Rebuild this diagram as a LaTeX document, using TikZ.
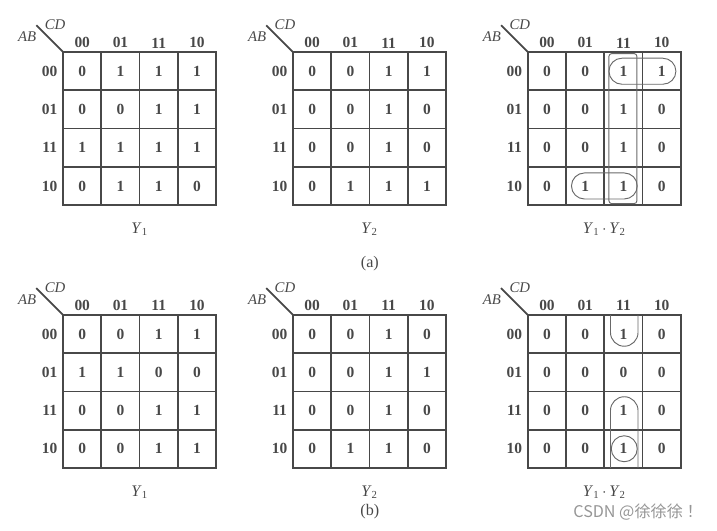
\documentclass[tikz,border=0pt]{standalone}
\usepackage{fontspec}
\setmainfont{Liberation Serif}
\newfontfamily\cjk{Noto Sans CJK SC}
\usepackage{xcolor}
\definecolor{ink}{RGB}{72,72,72}
\definecolor{loopc}{RGB}{105,105,105}
\definecolor{wmark}{RGB}{150,150,150}

\begin{document}
\begin{tikzpicture}
\tikzstyle{cell} =[draw=ink,line width=1.3pt,minimum size=1cm,inner sep=0pt,text=ink,font=\fontsize{11.5}{11.5}\selectfont\bfseries]
\tikzstyle{code} =[inner sep=0pt,text=ink,font=\fontsize{11.5}{11.5}\selectfont\bfseries]
\tikzstyle{var} =[inner sep=0pt,text=ink,font=\fontsize{11}{11}\selectfont\itshape]
\tikzstyle{caption} =[inner sep=0pt,text=ink,font=\fontsize{12}{12}\selectfont]
\tikzstyle{ring} =[draw=loopc,line width=0.7pt]
\useasboundingbox (0,0) rectangle (18.745,13.882);
\foreach \m/\px/\py/\data/\cap in {
  a1/1.65/12.52/{{0,1,1,1},{0,0,1,1},{1,1,1,1},{0,1,1,0}}/{\textit{Y}\textsubscript{1}},
  a2/7.66/12.52/{{0,0,1,1},{0,0,1,0},{0,0,1,0},{0,1,1,1}}/{\textit{Y}\textsubscript{2}},
  a3/13.80/12.52/{{0,0,1,1},{0,0,1,0},{0,0,1,0},{0,1,1,0}}/{\textit{Y}\textsubscript{1}\,$\cdot$\,\textit{Y}\textsubscript{2}},
  b1/1.65/5.65/{{0,0,1,1},{1,1,0,0},{0,0,1,1},{0,0,1,1}}/{\textit{Y}\textsubscript{1}},
  b2/7.66/5.65/{{0,0,1,0},{0,0,1,1},{0,0,1,0},{0,1,1,0}}/{\textit{Y}\textsubscript{2}},
  b3/13.80/5.65/{{0,0,1,0},{0,0,0,0},{0,0,1,0},{0,0,1,0}}/{\textit{Y}\textsubscript{1}\,$\cdot$\,\textit{Y}\textsubscript{2}}}
{
  \begin{scope}[shift={(\px,\py)}]
    \foreach \vals [count=\r from 0] in \data {
      \foreach \v [count=\c from 0] in \vals
        \node[cell] (\m-\r-\c) at (\c+0.5,-\r-0.5) {\v};
    }
    \foreach \g [count=\c from 0] in {00,01,11,10} {
      \node[code] (\m-col\c) at (\c+0.5,0.24) {\g};
      \node[code] (\m-row\c) at (-0.35,-\c-0.5) {\g};
    }
    \coordinate (\m-o) at (0,0);
    \coordinate (\m-d) at (-0.7,0.7);
    \draw[ink,line width=1.3pt] (\m-o) -- (\m-d);
    \node[var] (\m-cd) at (-0.21,0.72) {CD};
    \node[var] (\m-ab) at (-0.94,0.40) {AB};
    \node[caption] (\m-cap) at (2,-4.63) {\cap};
  \end{scope}
}
\begin{scope}[shift={(13.80,12.52)}]
  \draw[ring,rounded corners=0.34cm] (2.12,-0.16) rectangle (3.87,-0.84);
  \draw[ring,rounded corners=0.34cm] (1.14,-3.16) rectangle (2.86,-3.84);
  \draw[ring,rounded corners=2pt] (2.12,-0.04) rectangle (2.85,-3.96);
\end{scope}
\begin{scope}[shift={(13.80,5.65)}]
  \draw[ring] (2.16,0) -- (2.16,-0.46) arc[start angle=180,end angle=360,radius=0.36] -- (2.88,0);
  \draw[ring] (2.16,-4) -- (2.16,-2.5) arc[start angle=180,end angle=0,radius=0.36] -- (2.88,-4);
  \draw[ring] (2.52,-3.5) circle[radius=0.34];
\end{scope}
\node[caption] (lab-a) at (9.67,6.98) {(a)};
\node[caption] (lab-b) at (9.67,0.50) {(b)};
\node[inner sep=0pt,text=wmark,font=\cjk\fontsize{12}{12}\selectfont] (mark) at (16.68,0.50) {CSDN @徐徐徐 ！};
\end{tikzpicture}
\end{document}
